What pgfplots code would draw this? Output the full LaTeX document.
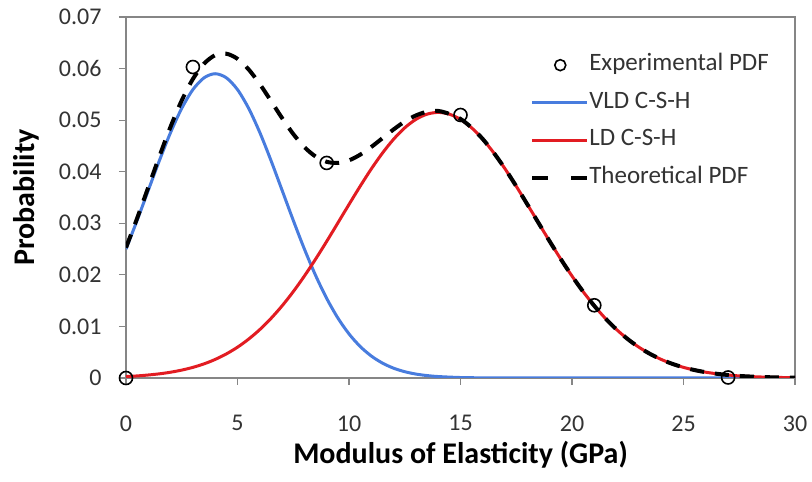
\documentclass[border=0pt]{standalone}
\usepackage{pgfplots}
\pgfplotsset{compat=1.18}
\usepackage{fontspec}
\setmainfont{Carlito}
\definecolor{vldblue}{RGB}{72,124,222}
\definecolor{ldred}{RGB}{226,28,34}
\definecolor{framegray}{RGB}{134,134,134}
\pgfplotsset{
  linelegend/.style={legend image code/.code={\draw[##1] (0pt,0pt) -- (55pt,0pt);}},
  dashlegend/.style={legend image code/.code={\draw[##1, dash pattern=on 16pt off 23pt] (0pt,0pt) -- (55pt,0pt);}},
  marklegend/.style={legend image code/.code={\draw[##1, mark size=5.5pt] plot coordinates {(28pt,0pt)};}},
}
\begin{document}
\begin{tikzpicture}
\begin{axis}[
  scale only axis,
  width=669pt, height=361pt,
  xmin=0, xmax=30, ymin=0, ymax=0.07,
  xtick={0,5,10,15,20,25,30},
  ytick={0,0.01,0.02,0.03,0.04,0.05,0.06,0.07},
  yticklabels={0,0.01,0.02,0.03,0.04,0.05,0.06,0.07},
  scaled y ticks=false,
  /pgf/number format/assume math mode=true,
  tick label style={font=\fontsize{24}{26}\selectfont, text=black!80},
  xticklabel style={yshift=-27pt},
  yticklabel style={xshift=-14pt},
  tick align=outside,
  xtick pos=bottom, ytick pos=left,
  major tick length=7pt,
  tick style={framegray, line width=1.2pt},
  axis line style={framegray, line width=1.3pt},
  xlabel={\textbf{Modulus of Elasticity (GPa)}},
  ylabel={\textbf{Probability}},
  label style={font=\fontsize{30}{32}\selectfont},
  xlabel style={at={(axis description cs:0.5,-0.213)}, anchor=center},
  ylabel style={at={(axis description cs:-0.1495,0.5)}, anchor=center},
  legend style={draw=none, fill=none, at={(0.604,0.899)}, anchor=north west,
    font=\fontsize{25}{27}\selectfont, row sep=14.5pt, inner sep=0pt,
    nodes={inner sep=0pt, text height=17pt, text depth=6pt, text=black!80}},
  legend cell align=left,
]
\addplot[only marks, mark=o, mark size=6.5pt, mark options={line width=1.6pt, black}, marklegend]
  coordinates {(0,0) (3,0.0603) (9,0.0417) (15,0.0510) (21,0.0141) (27,0.0001)};
\addlegendentry{Experimental PDF}

\addplot[vldblue, line width=3pt, smooth, linelegend]
  coordinates {(0,0.02500) (0.5,0.03058) (1,0.03640) (1.5,0.04219) (2,0.04761) (2.5,0.05229)
  (3,0.05592) (3.5,0.05821) (4,0.05900) (4.5,0.05821) (5,0.05592) (5.5,0.05229) (6,0.04761)
  (6.5,0.04219) (7,0.03640) (7.5,0.03058) (8,0.02500) (8.5,0.01991) (9,0.01543) (9.5,0.01164)
  (10,0.00855) (10.5,0.00612) (11,0.00426) (11.5,0.00289) (12,0.00190) (12.5,0.00122)
  (13,0.00076) (13.5,0.00047) (14,0.00028) (15,0.00009) (16,0.00003) (17,0.00001)
  (18,0) (20,0) (22,0) (24,0) (26,0) (28,0) (30,0)};
\addlegendentry{VLD C-S-H}

\addplot[ldred, line width=3pt, smooth, linelegend]
  coordinates {(0,0.00028) (0.5,0.00040) (1,0.00058) (1.5,0.00081) (2,0.00112) (2.5,0.00153)
  (3,0.00206) (3.5,0.00274) (4,0.00360) (4.5,0.00467) (5,0.00597) (5.5,0.00754) (6,0.00939)
  (6.5,0.01154) (7,0.01399) (7.5,0.01674) (8,0.01977) (8.5,0.02304) (9,0.02649) (9.5,0.03006)
  (10,0.03365) (10.5,0.03718) (11,0.04054) (11.5,0.04361) (12,0.04630) (12.5,0.04851)
  (13,0.05015) (13.5,0.05116) (14,0.05150) (14.5,0.05116) (15,0.05015) (15.5,0.04851)
  (16,0.04630) (16.5,0.04361) (17,0.04054) (17.5,0.03718) (18,0.03365) (18.5,0.03006)
  (19,0.02649) (19.5,0.02304) (20,0.01977) (20.5,0.01674) (21,0.01399) (21.5,0.01154)
  (22,0.00939) (22.5,0.00754) (23,0.00597) (23.5,0.00467) (24,0.00360) (24.5,0.00274)
  (25,0.00206) (25.5,0.00153) (26,0.00112) (26.5,0.00081) (27,0.00058) (27.5,0.00040)
  (28,0.00028) (28.5,0.00019) (29,0.00013) (29.5,0.00009) (30,0.00006)};
\addlegendentry{LD C-S-H}

\addplot[black, line width=4pt, smooth, dash pattern=on 14pt off 11pt, dashlegend]
  coordinates {(0,0.02528) (0.5,0.03098) (1,0.03698) (1.5,0.04300) (2,0.04873) (2.5,0.05382)
  (3,0.05798) (3.5,0.06095) (4,0.06260) (4.5,0.06288) (5,0.06189) (5.5,0.05983) (6,0.05700)
  (6.5,0.05373) (7,0.05039) (7.5,0.04732) (8,0.04477) (8.5,0.04295) (9,0.04192) (9.5,0.04170)
  (10,0.04220) (10.5,0.04330) (11,0.04480) (11.5,0.04650) (12,0.04820) (12.5,0.04973)
  (13,0.05091) (13.5,0.05163) (14,0.05178) (14.5,0.05121) (15,0.05024) (15.5,0.04853)
  (16,0.04633) (16.5,0.04362) (17,0.04055) (17.5,0.03718) (18,0.03365) (18.5,0.03006)
  (19,0.02649) (19.5,0.02304) (20,0.01977) (20.5,0.01674) (21,0.01399) (21.5,0.01154)
  (22,0.00939) (22.5,0.00754) (23,0.00597) (23.5,0.00467) (24,0.00360) (24.5,0.00274)
  (25,0.00206) (25.5,0.00153) (26,0.00112) (26.5,0.00081) (27,0.00058) (27.5,0.00040)
  (28,0.00028) (28.5,0.00019) (29,0.00013) (29.5,0.00009) (30,0.00006)};
\addlegendentry{Theoretical PDF}
\end{axis}
\path ([xshift=-126pt,yshift=-104pt]current axis.south west) rectangle ([xshift=17pt,yshift=17pt]current axis.north east);
\end{tikzpicture}
\end{document}
